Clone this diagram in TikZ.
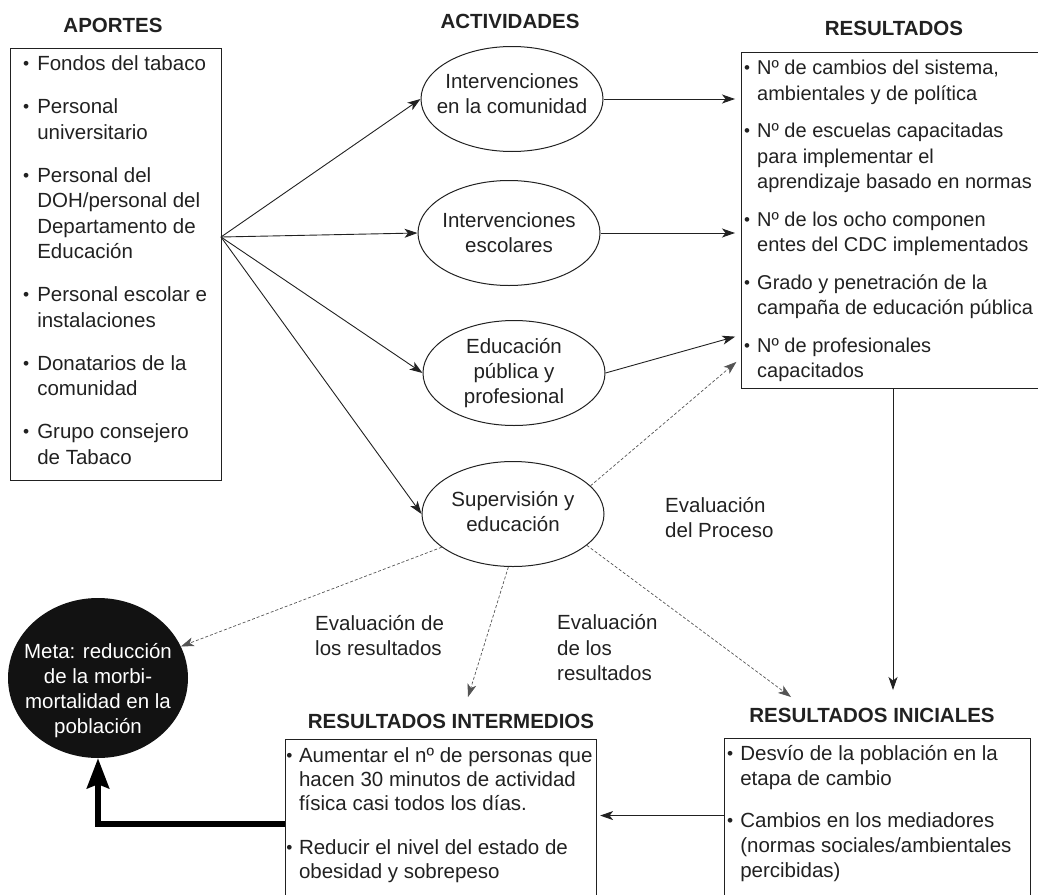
\documentclass[tikz,border=0pt]{standalone}
\usepackage{fontspec}
\usepackage{graphicx}
\setmainfont{Liberation Sans}
\usetikzlibrary{shapes.geometric,arrows.meta,calc}

\definecolor{ink}{gray}{0.13}
\definecolor{dashink}{gray}{0.33}
\newcommand\bul{\makebox[7.2pt]{\raisebox{0.6pt}{\scalebox{0.85}{\textbullet}}}}

\begin{document}
\begin{tikzpicture}[x=1pt,y=-1pt,
  head/.style={font=\fontsize{20.5}{24}\selectfont\bfseries, text=ink, inner sep=0pt, anchor=base},
  frame/.style={draw=ink, line width=1.1pt, inner sep=0pt, anchor=north west},
  list/.style={inner sep=0pt, anchor=north west, text=ink},
  act/.style={ellipse, draw=ink, line width=1pt, minimum width=182pt, minimum height=105pt, inner sep=0pt},
  acttext/.style={align=center, text=ink, inner sep=0pt, font=\fontsize{20.5}{25}\selectfont},
  arr/.style={draw=ink, line width=0.9pt, -{Stealth[length=13pt,width=9pt,inset=3.5pt]}},
  evalarr/.style={draw=dashink, line width=0.7pt, dash pattern=on 3pt off 2pt,
    -{Stealth[length=13pt,width=9pt,inset=3.5pt]}},
  goalarr/.style={draw=black, line width=6pt, -{Stealth[length=30pt,width=22pt,inset=4pt]}}
]
\useasboundingbox (0,0) rectangle (1038,894);

% column headings
\node[head] (hAportes) at (113,32.3) {APORTES};
\node[head] (hActiv) at (510,28.3) {ACTIVIDADES};
\node[head] (hRes) at (894,35.3) {RESULTADOS};
\node[head] (hInter) at (451,728.3) {RESULTADOS INTERMEDIOS};
\node[head] (hInic) at (872,722.3) {RESULTADOS INICIALES};

% inputs
\node[frame, minimum width=211pt, minimum height=432pt] (aportes) at (10,48) {};
\node[list, font=\fontsize{20.5}{25.5}\selectfont] (aportesList) at (22.4,52.5) {%
\begin{tabular}{@{}l@{\hspace{7.5pt}}l@{}}
\bul & Fondos del tabaco\\[17.5pt]
\bul & Personal\\
     & universitario\\[17.5pt]
\bul & Personal del\\
     & DOH/personal del\\
     & Departamento de\\
     & Educación\\[17.5pt]
\bul & Personal escolar e\\
     & instalaciones\\[17.5pt]
\bul & Donatarios de la\\
     & comunidad\\[17.5pt]
\bul & Grupo consejero\\
     & de Tabaco
\end{tabular}};
\coordinate (hub) at (221,237);

% activities
\node[act] (e1) at (512,99) {};
\node[acttext] (e1t) at (512,94) {Intervenciones\\en la comunidad};
\node[act] (e2) at (509,233) {};
\node[acttext] (e2t) at (e2) {Intervenciones\\escolares};
\node[act] (e3) at (514,373) {};
\node[acttext] (e3t) at (e3) {Educación\\pública y\\profesional};
\node[act] (e4) at (513,514) {};
\node[acttext] (e4t) at (513,512) {Supervisión y\\educación};

% outputs
\node[frame, minimum width=320pt, minimum height=336pt] (res) at (741,52) {};
\node[list, font=\fontsize{20}{25.5}\selectfont] (resList) at (743.4,56.5) {%
\begin{tabular}{@{}l@{\hspace{6.4pt}}l@{}}
\bul & Nº de cambios del sistema,\\
     & ambientales y de política\\[12pt]
\bul & Nº de escuelas capacitadas\\
     & para implementar el\\
     & aprendizaje basado en normas\\[12pt]
\bul & Nº de los ocho componen\\
     & entes del CDC implementados\\[12pt]
\bul & Grado y penetración de la\\
     & campaña de educación pública\\[12pt]
\bul & Nº de profesionales\\
     & capacitados
\end{tabular}};
\coordinate (r3) at (741,335);
\coordinate (r4) at (741,358);

% goal
\node[ellipse, fill=black!93, minimum width=180pt, minimum height=160pt, inner sep=0pt] (meta) at (98,678) {};
\node[acttext, text=white] (metat) at (98,691) {Meta: reducción\\de la morbi-\\mortalidad en la\\población};

% intermediate outcomes
\node[frame, minimum width=311pt, minimum height=161pt] (im) at (285,739) {};
\node[list, font=\fontsize{20.5}{24}\selectfont] (imList) at (285.6,745.5) {%
\begin{tabular}{@{}l@{\hspace{6pt}}l@{}}
\bul & Aumentar el nº de personas que\\
     & hacen 30 minutos de actividad\\
     & física casi todos los días.\\[20pt]
\bul & Reducir el nivel del estado de\\
     & obesidad y sobrepeso
\end{tabular}};

% initial outcomes
\node[frame, minimum width=306pt, minimum height=162pt] (ini) at (724,738) {};
\node[list, font=\fontsize{20.5}{25}\selectfont] (iniList) at (726.4,742.8) {%
\begin{tabular}{@{}l@{\hspace{6.5pt}}l@{}}
\bul & Desvío de la población en la\\
     & etapa de cambio\\[17pt]
\bul & Cambios en los mediadores\\
     & (normas sociales/ambientales\\
     & percibidas)
\end{tabular}};

% evaluation labels
\node[list, font=\fontsize{20.5}{25}\selectfont] (evProc) at (665,494.8) {%
\begin{tabular}{@{}l@{}}Evaluación\\del Proceso\end{tabular}};
\node[list, font=\fontsize{20.5}{25.5}\selectfont] (evRes2) at (557,611.5) {%
\begin{tabular}{@{}l@{}}Evaluación\\de los\\resultados\end{tabular}};
\node[list, font=\fontsize{20.5}{25}\selectfont] (evRes1) at (315,612.5) {%
\begin{tabular}{@{}l@{}}Evaluación de\\los resultados\end{tabular}};

% inputs feed the activities
\draw[arr] (hub) -- (e1.west);
\draw[arr] (hub) -- (e2.west);
\draw[arr] (hub) -- (e3.west);
\draw[arr] (hub) -- (e4.west);

% activities feed the outputs
\draw[arr, shorten >=6pt] (e1.east) -- (e1.east -| res.west);
\draw[arr, shorten >=6pt] (e2.east) -- (e2.east -| res.west);
\draw[arr, shorten >=6pt] (e3.east) -- (r3);
\draw[evalarr, shorten >=6pt] (e4.20) -- (r4);

% evaluation links
\coordinate (imtip) at (468,697);
\coordinate (ictip) at (791,697);
\coordinate (vtip) at (893,690);
\draw[evalarr] (e4.205) -- (meta);
\draw[evalarr] (e4.265) -- (imtip);
\draw[evalarr] (e4.337) -- (ictip);

% outcome chain
\draw[arr] (res.south -| vtip) -- (vtip);
\draw[arr, shorten >=3pt] ([yshift=4pt]ini.west) -- ([yshift=4pt]ini.west -| im.east);
\draw[goalarr] ([yshift=-3.5pt]im.west) -| (meta.south);
\end{tikzpicture}
\end{document}
